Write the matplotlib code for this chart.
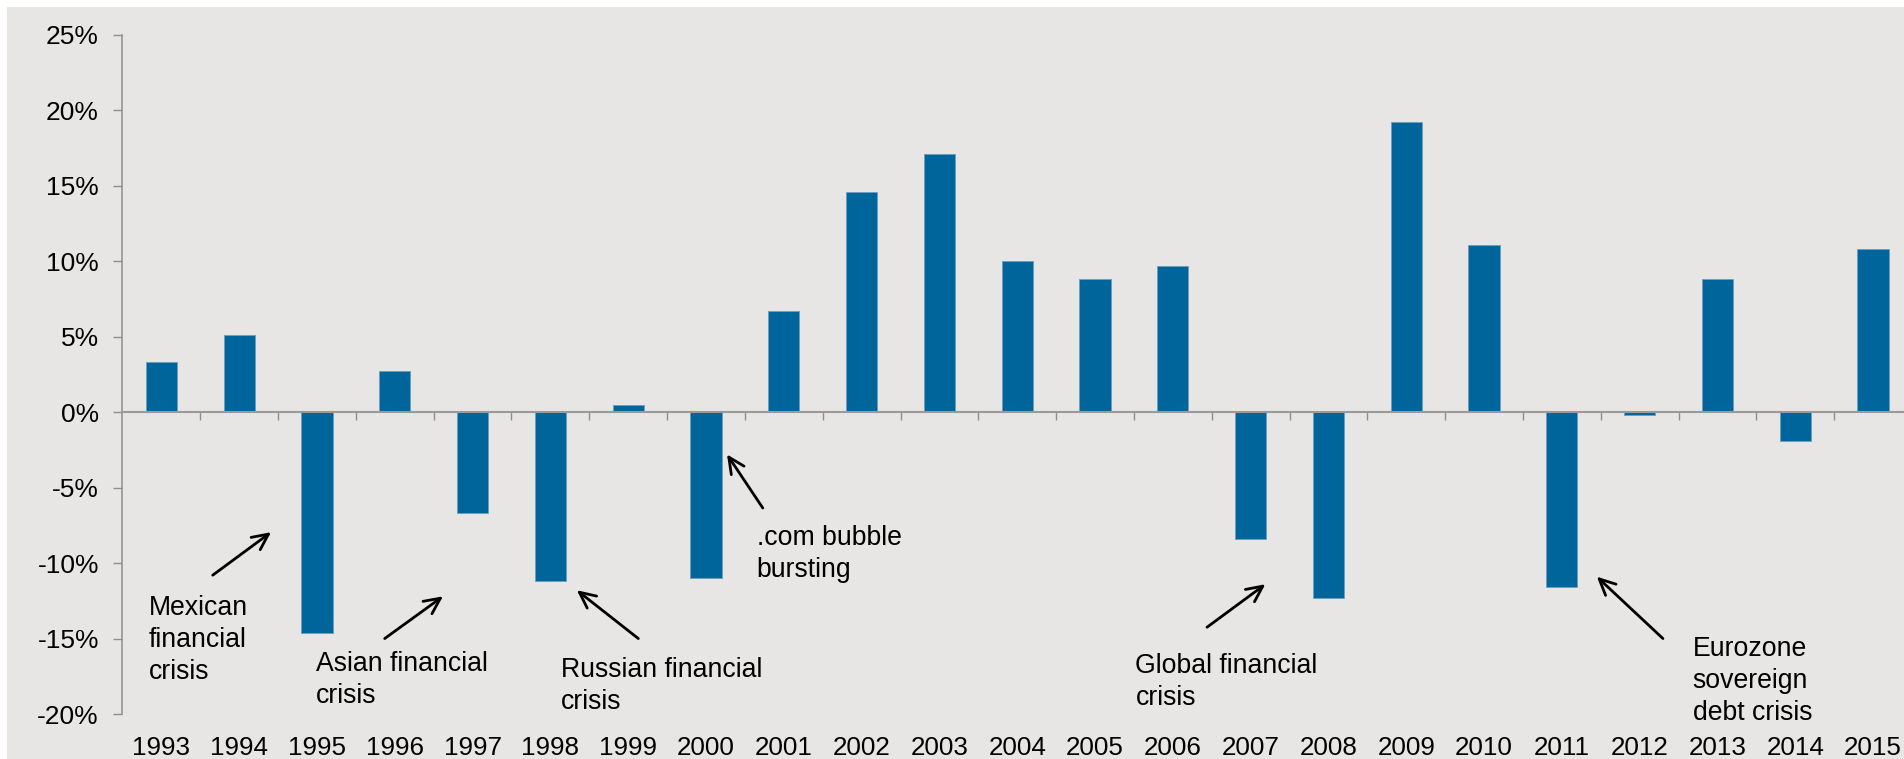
import matplotlib
matplotlib.use("Agg")
import matplotlib.pyplot as plt
from matplotlib.patches import Rectangle
from matplotlib.ticker import FixedLocator, FuncFormatter

plt.rcParams["font.family"] = ["Liberation Sans", "DejaVu Sans"]

# Calendar-year returns (%)
years = [str(y) for y in range(1993, 2016)]
returns = [3.3, 5.1, -14.6, 2.7, -6.7, -11.2, 0.5, -11.0, 6.7, 14.6, 17.1, 10.0,
           8.8, 9.7, -8.4, -12.3, 19.2, 11.1, -11.6, -0.2, 8.8, -1.9, 10.8]
y_ticks = [-20, -15, -10, -5, 0, 5, 10, 15, 20, 25]

# Crisis call-outs: label, text anchor (x, y), arrow tail, arrow head
crisis_labels = ["Mexican\nfinancial\ncrisis", "Asian financial\ncrisis",
                 "Russian financial\ncrisis", ".com bubble\nbursting",
                 "Global financial\ncrisis", "Eurozone\nsovereign\ndebt crisis"]
label_pos = [(-0.16, -12.1), (1.99, -15.8), (5.13, -16.2), (7.65, -7.5),
             (12.52, -15.95), (19.68, -14.85)]
arrow_tail = [(0.66, -10.8), (2.87, -15.0), (6.13, -15.0), (7.73, -6.35),
              (13.44, -14.25), (19.30, -15.0)]
arrow_head = [(1.41, -7.95), (3.62, -12.2), (5.34, -11.8), (7.27, -2.8),
              (14.19, -11.4), (18.45, -10.9)]

BAR = "#00659A"
BG = "#E7E6E4"
AXIS = "#8E8E8E"

fig = plt.figure(figsize=(19.04, 7.59), dpi=100, facecolor="white")
fig.patches.append(Rectangle((7 / 1904, 0), 1, 1 - 7 / 759, transform=fig.transFigure,
                             facecolor=BG, edgecolor="none", zorder=-10))

ax = fig.add_axes([122.5 / 1904, 45 / 759, (23 * 77.8) / 1904, (713.8 - 34.7) / 759])
ax.set_facecolor("none")

x = list(range(len(years)))
ax.bar(x, returns, width=0.4, color=BAR, edgecolor="#6E9DBD", linewidth=0.6, zorder=3)

ax.set_xlim(-0.5, len(years) - 0.5)
ax.set_ylim(-20, 25)

# y axis
ax.yaxis.set_major_locator(FixedLocator(y_ticks))
ax.yaxis.set_major_formatter(FuncFormatter(lambda v, _: f"{v:.0f}%"))
ax.tick_params(axis="y", direction="out", length=6.5, width=1.0, color=AXIS,
               labelsize=19, pad=10.5, labelcolor="black")
ax.spines["left"].set_color(AXIS)
ax.spines["left"].set_linewidth(1.1)
for s in ("top", "right"):
    ax.spines[s].set_visible(False)

# zero baseline with ticks between categories
ax.spines["bottom"].set_position(("data", 0))
ax.spines["bottom"].set_color("#9A9A9A")
ax.spines["bottom"].set_linewidth(1.5)
ax.spines["bottom"].set_zorder(4)
ax.xaxis.set_major_locator(FixedLocator([i + 0.5 for i in range(len(years))]))
ax.tick_params(axis="x", direction="out", length=5.5, width=1.0, color=AXIS,
               labelbottom=False)

# year labels along the bottom edge
sec = ax.secondary_xaxis(0)
sec.set_xticks(x)
sec.set_xticklabels(years)
sec.tick_params(axis="x", length=0, labelsize=18.7, pad=16, labelcolor="black")
sec.spines["bottom"].set_visible(False)

for lab, (tx, ty), tail, head in zip(crisis_labels, label_pos, arrow_tail, arrow_head):
    ax.text(tx, ty, lab, ha="left", va="top", fontsize=19.2, color="black",
            linespacing=1.3, zorder=5)
    ax.annotate("", xy=head, xytext=tail,
                arrowprops=dict(arrowstyle="->,head_length=1.15,head_width=0.55",
                                color="black", lw=2.0, shrinkA=0, shrinkB=0),
                zorder=5)

fig.savefig("out.png", dpi=100, facecolor=fig.get_facecolor())
